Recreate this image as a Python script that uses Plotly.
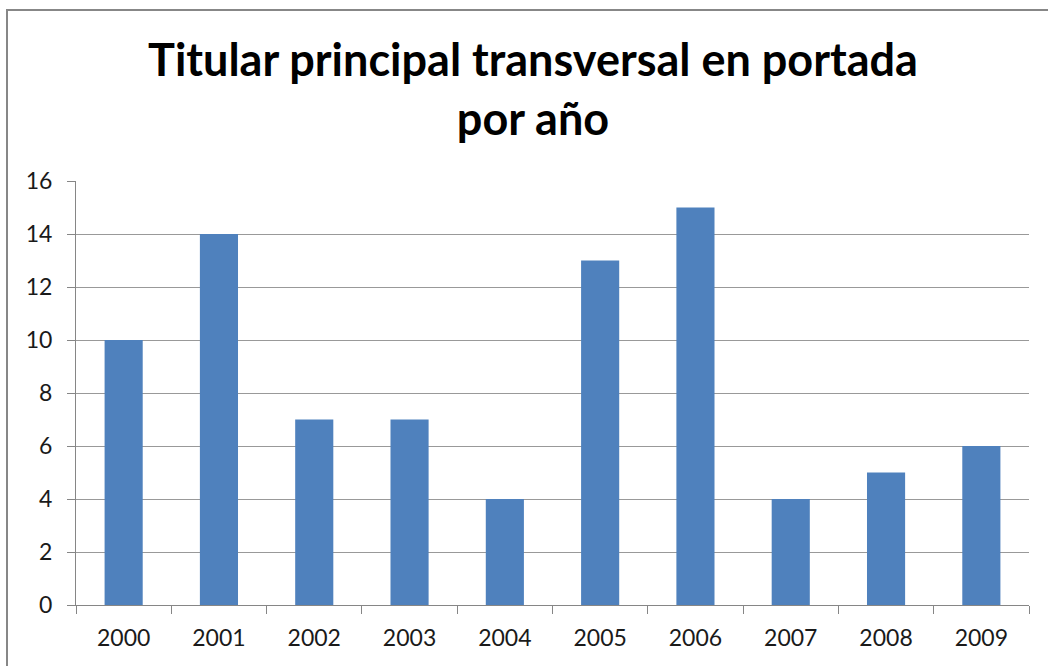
import plotly.graph_objects as go

years = ["2000", "2001", "2002", "2003", "2004", "2005", "2006", "2007", "2008", "2009"]
counts = [10, 14, 7, 7, 4, 13, 15, 4, 5, 6]
y_ticks = [0, 2, 4, 6, 8, 10, 12, 14, 16]

W, H = 1048, 666
ml, mr, mt, mb = 76, 19, 181, 61
pw, ph = W - ml - mr, H - mt - mb

fig = go.Figure(go.Bar(
    x=years, y=counts,
    marker=dict(color="#4F81BD", line=dict(color="#4F81BD", width=0)),
    width=0.4,
))

fig.update_layout(
    width=W, height=H,
    margin=dict(l=ml, r=mr, t=mt, b=mb),
    paper_bgcolor="white", plot_bgcolor="white",
    showlegend=False,
    font=dict(family="Lato, Open Sans, sans-serif", color="#1a1a1a"),
    title=dict(
        text="<b>Titular principal transversal en portada<br>por año</b>",
        x=533 / W, xanchor="center", y=1 - 76 / H, yanchor="middle",
        font=dict(family="Lato, Open Sans, sans-serif", size=45, color="black"),
    ),
    xaxis=dict(
        type="category",
        showgrid=False,
        showline=True, linecolor="#868686", linewidth=1,
        ticks="outside", tickson="boundaries", ticklen=8, tickcolor="#868686",
        tickfont=dict(size=23, color="#1a1a1a"),
        ticklabelstandoff=12,
    ),
    yaxis=dict(
        range=[0, 16], tickvals=y_ticks,
        showgrid=True, gridcolor="#999999", gridwidth=1,
        showline=True, linecolor="#868686", linewidth=1,
        ticks="outside", ticklen=8, tickcolor="#868686",
        tickfont=dict(size=23, color="#1a1a1a"),
        ticklabelstandoff=10,
        zeroline=False,
    ),
    shapes=[dict(
        type="rect", xref="paper", yref="paper",
        x0=(7 - ml) / pw, x1=(W + 20 - ml) / pw,
        y0=-(mb + 20) / ph, y1=(H - mb - 10) / ph,
        line=dict(color="#878787", width=2), fillcolor="rgba(0,0,0,0)",
        layer="below",
    )],
)

fig.write_html("out.html", config={"displayModeBar": False},
               post_script="document.body.style.margin='0px';")
